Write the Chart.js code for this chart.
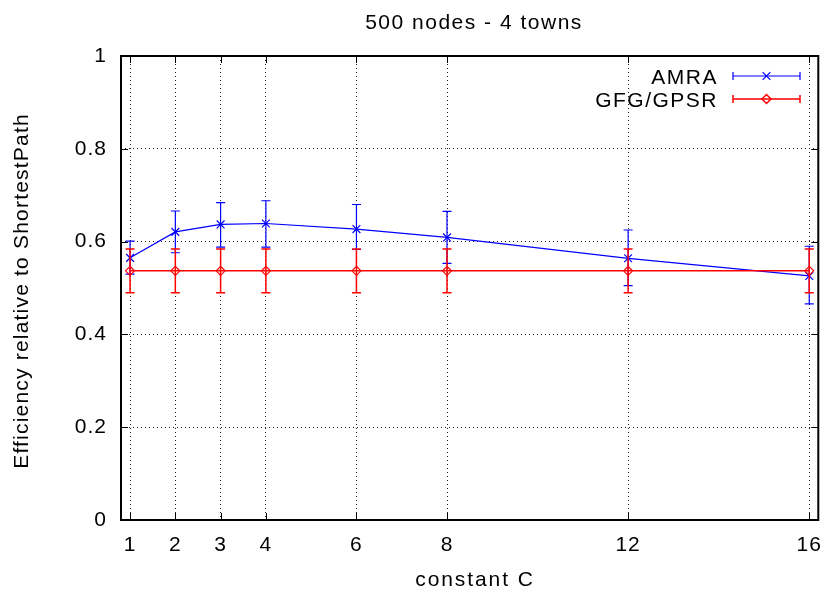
<!DOCTYPE html>
<html>
<head>
<meta charset="utf-8">
<script src="https://cdn.jsdelivr.net/npm/chart.js@4/dist/chart.umd.min.js"></script>
<style>
  html, body { margin: 0; padding: 0; background: #fff; }
  #wrap { width: 834px; height: 597px; position: relative; }
</style>
</head>
<body>
<div id="wrap"><canvas id="c" width="834" height="597"></canvas></div>
<script>
// Constant C values on the x axis
const cValues = [1, 2, 3, 4, 6, 8, 12, 16];
const xTickValues = [1, 2, 3, 4, 6, 8, 12, 16];
const yTickValues = [0, 0.2, 0.4, 0.6, 0.8, 1];
const yTickLabels = ['0', '0.2', '0.4', '0.6', '0.8', '1'];

// AMRA: mean efficiency with lower / upper error bounds
const amraMean = [0.565, 0.621, 0.637, 0.639, 0.627, 0.609, 0.564, 0.526];
const amraLow  = [0.530, 0.576, 0.588, 0.588, 0.583, 0.553, 0.505, 0.466];
const amraHigh = [0.601, 0.666, 0.684, 0.688, 0.680, 0.665, 0.625, 0.590];

// GFG/GPSR: mean efficiency with lower / upper error bounds
const gfgMean = [0.537, 0.537, 0.537, 0.537, 0.537, 0.537, 0.537, 0.537];
const gfgLow  = [0.490, 0.490, 0.490, 0.490, 0.490, 0.490, 0.490, 0.490];
const gfgHigh = [0.584, 0.584, 0.584, 0.584, 0.584, 0.584, 0.584, 0.584];

const titleText = '500 nodes - 4 towns';
const xTitle = 'constant C';
const yTitle = 'Efficiency relative to ShortestPath';
const seriesNames = ['AMRA', 'GFG/GPSR'];

const FONT = '"Liberation Sans", Arial, Helvetica, sans-serif';
const BLUE = '#0000ff';
const RED = '#ff0000';

const series = [
  { name: seriesNames[0], mean: amraMean, low: amraLow, high: amraHigh, color: BLUE,
    pointStyle: 'crossRot', radius: 5.5, lineWidth: 1.2, order: 2 },
  { name: seriesNames[1], mean: gfgMean, low: gfgLow, high: gfgHigh, color: RED,
    pointStyle: 'rectRot', radius: 4.5, lineWidth: 1.5, order: 1 }
];

const datasets = series.map(s => ({
  label: s.name,
  data: cValues.map((x, i) => ({ x: x, y: s.mean[i] })),
  showLine: true,
  tension: 0,
  borderColor: s.color,
  backgroundColor: 'rgba(0,0,0,0)',
  borderWidth: s.lineWidth,
  pointStyle: s.pointStyle,
  pointRadius: s.radius,
  pointHoverRadius: s.radius,
  pointBorderColor: s.color,
  pointBackgroundColor: 'rgba(0,0,0,0)',
  pointBorderWidth: 1.2,
  order: s.order
}));

function drawSpacedText(ctx, text, x, y, align, spacing) {
  ctx.save();
  ctx.letterSpacing = spacing + 'px';
  ctx.textAlign = align;
  ctx.fillText(text, x, y);
  ctx.restore();
}

const gnuplotLook = {
  id: 'gnuplotLook',
  beforeDraw(chart) {
    const ctx = chart.ctx;
    ctx.save();
    ctx.fillStyle = '#fff';
    ctx.fillRect(0, 0, chart.width, chart.height);
    ctx.restore();
    ctx.letterSpacing = '1px';
  },
  afterDatasetDraw(chart, args) {
    // error bars of each series, drawn right after its line and points
    const s = series.find(d => d.name === chart.data.datasets[args.index].label);
    const xs = chart.scales.x, ys = chart.scales.y;
    const ctx = chart.ctx;
    const cap = 4.5;
    ctx.save();
    ctx.strokeStyle = s.color;
    ctx.lineWidth = s.lineWidth;
    cValues.forEach((c, i) => {
      const px = xs.getPixelForValue(c);
      const yl = ys.getPixelForValue(s.low[i]);
      const yh = ys.getPixelForValue(s.high[i]);
      ctx.beginPath();
      ctx.moveTo(px, yl); ctx.lineTo(px, yh);
      ctx.moveTo(px - cap, yl); ctx.lineTo(px + cap, yl);
      ctx.moveTo(px - cap, yh); ctx.lineTo(px + cap, yh);
      ctx.stroke();
    });
    ctx.restore();
  },
  afterDraw(chart) {
    const ctx = chart.ctx;
    const a = chart.chartArea;
    const xs = chart.scales.x, ys = chart.scales.y;
    ctx.save();
    // inward tick marks on all four sides
    ctx.strokeStyle = '#000';
    ctx.lineWidth = 1;
    ctx.beginPath();
    xTickValues.forEach(v => {
      const px = Math.round(xs.getPixelForValue(v)) + 0.5;
      ctx.moveTo(px, a.bottom); ctx.lineTo(px, a.bottom - 7);
      ctx.moveTo(px, a.top); ctx.lineTo(px, a.top + 7);
    });
    yTickValues.forEach(v => {
      const py = Math.round(ys.getPixelForValue(v)) + 0.5;
      ctx.moveTo(a.left, py); ctx.lineTo(a.left + 7, py);
      ctx.moveTo(a.right, py); ctx.lineTo(a.right - 7, py);
    });
    ctx.stroke();
    // frame
    ctx.lineWidth = 2;
    ctx.strokeRect(a.left, a.top, a.right - a.left, a.bottom - a.top);

    // texts
    ctx.fillStyle = '#000';
    ctx.font = '21px ' + FONT;
    ctx.textBaseline = 'alphabetic';
    drawSpacedText(ctx, titleText, 474, 29, 'center', 1.5);
    drawSpacedText(ctx, xTitle, 475, 586, 'center', 1.9);
    ctx.save();
    ctx.translate(28, 291);
    ctx.rotate(-Math.PI / 2);
    drawSpacedText(ctx, yTitle, 0, 0, 'center', 1.2);
    ctx.restore();

    // key
    const rows = [76, 99];
    series.forEach((s, i) => {
      const y = rows[i];
      ctx.fillStyle = '#000';
      drawSpacedText(ctx, s.name, 718, y + 8, 'right', 1.5);
      ctx.strokeStyle = s.color;
      ctx.lineWidth = s.lineWidth;
      ctx.beginPath();
      ctx.moveTo(733, y); ctx.lineTo(800, y);
      ctx.moveTo(733, y - 4); ctx.lineTo(733, y + 4);
      ctx.moveTo(800, y - 4); ctx.lineTo(800, y + 4);
      ctx.stroke();
      ctx.fillStyle = 'rgba(0,0,0,0)';
      Chart.helpers.drawPoint(ctx, {
        pointStyle: s.pointStyle, radius: s.radius, rotation: 0, borderWidth: 1.2
      }, 766.5, y);
    });
    ctx.restore();
  }
};

new Chart(document.getElementById('c'), {
  type: 'scatter',
  data: { datasets: datasets },
  options: {
    responsive: false,
    animation: false,
    devicePixelRatio: 1,
    layout: { padding: { left: 0, top: 56, right: 6, bottom: 0 } },
    plugins: { legend: { display: false }, title: { display: false }, tooltip: { enabled: false } },
    scales: {
      x: {
        type: 'linear',
        min: 0.8,
        max: 16.2,
        afterFit(scale) { scale.height = 77; },
        afterBuildTicks(scale) { scale.ticks = xTickValues.map(v => ({ value: v })); },
        ticks: {
          autoSkip: false,
          maxRotation: 0,
          padding: 13,
          color: '#000',
          font: { family: FONT, size: 21 },
          callback: v => String(v)
        },
        grid: { color: '#222', lineWidth: 1, drawTicks: false },
        border: { display: false, dash: [1, 3] }
      },
      y: {
        type: 'linear',
        min: 0,
        max: 1,
        afterFit(scale) { scale.width = 121; },
        afterBuildTicks(scale) { scale.ticks = yTickValues.map(v => ({ value: v })); },
        ticks: {
          padding: 14,
          color: '#000',
          font: { family: FONT, size: 21 },
          callback: v => yTickLabels[yTickValues.indexOf(v)]
        },
        grid: { color: '#222', lineWidth: 1, drawTicks: false },
        border: { display: false, dash: [1, 3] }
      }
    }
  },
  plugins: [gnuplotLook]
});
</script>
</body>
</html>
